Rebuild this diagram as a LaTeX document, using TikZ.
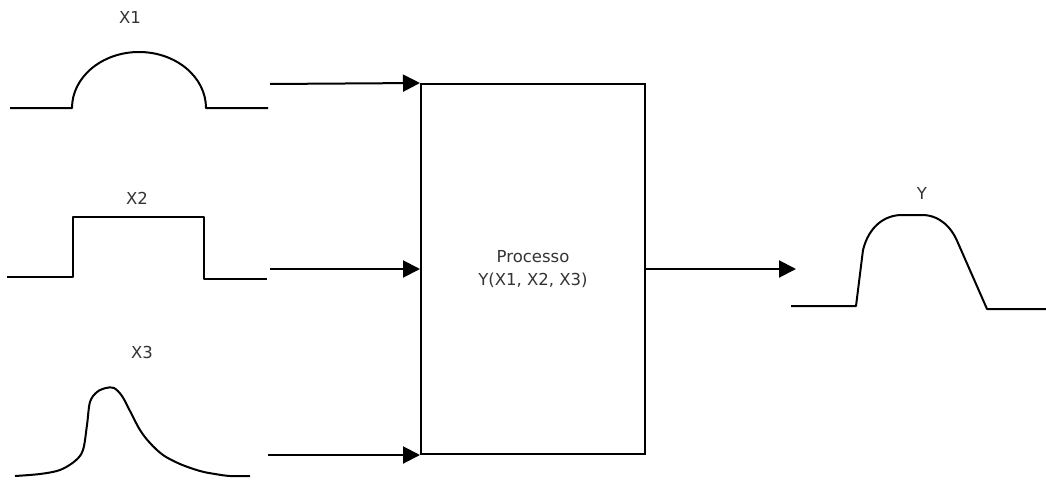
\documentclass[tikz,border=0pt]{standalone}
\usepackage{fontspec}
\setmainfont{DejaVu Sans}
\usetikzlibrary{arrows.meta}
\begin{document}
\begin{tikzpicture}[x=1pt,y=-1pt,
  sig/.style={line width=2pt, line join=round},
  lbl/.style={text=black!80, font=\fontsize{16.5}{20}\selectfont, inner sep=0pt},
  arr/.style={line width=2pt, -{Triangle[length=17pt,width=17pt]}},
  procbox/.style={draw, line width=2pt, minimum width=224pt, minimum height=370pt, align=center, text=black!80, font=\fontsize{16.5}{23}\selectfont}]
\useasboundingbox (0,0) rectangle (1046,479);
% labels
\node[lbl] (lx1) at (130,17) {X1};
\node[lbl] (lx2) at (137,198) {X2};
\node[lbl] (lx3) at (142,352) {X3};
\node[lbl] (ly) at (922,193) {Y};
% process box
\node[procbox] (proc) at (533,269) {Processo\\Y(X1, X2, X3)};
% signals
\draw[sig] (10,108) -- (72,108) arc[start angle=180, end angle=0, x radius=67pt, y radius=56pt] -- (268,108);
\draw[sig] (7,277) -- (73,277) -- (73,217) -- (204,217) -- (204,279) -- (267,279);
\draw[sig] plot[smooth, tension=0.55] coordinates {(15,476) (40,474) (60,470) (75,461) (83,450) (87,425) (90,402) (97,392) (106,388) (114,388) (122,396) (130,411) (140,430) (150,443) (163,455) (180,464) (200,471) (215,474) (230,476) (250,476)};
\draw[sig] (791,306) -- (856,306) -- (863,250) .. controls (869,226) and (885,215) .. (902,215) -- (922,215) .. controls (940,215) and (952,228) .. (958,243) -- (987,309) -- (1046,309);
% connectors
\coordinate (a1) at (270,84);
\coordinate (a2) at (270,269);
\coordinate (a3) at (268,455);
\coordinate (out) at (796,269);
\draw[arr] (a1) -- (proc.north west);
\draw[arr] (a2) -- (proc.west);
\draw[arr] (a3) -- (a3 -| proc.west);
\draw[arr] (proc.east) -- (out);
\end{tikzpicture}
\end{document}
